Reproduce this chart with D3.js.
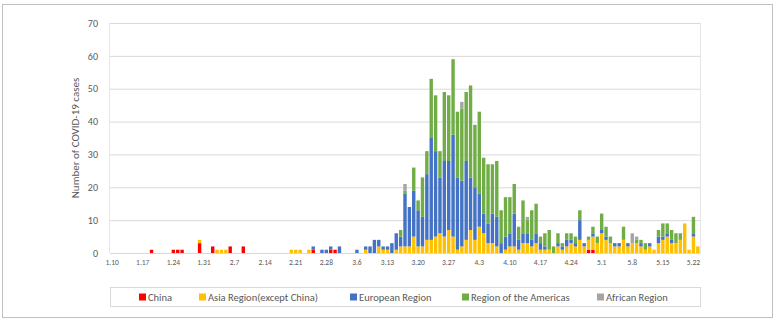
<!DOCTYPE html>
<meta charset="utf-8">
<style>
body { margin: 0; background: #fff; }
text { font-family: Carlito, Calibri, Lato, sans-serif; fill: #595959; }
.grid line { stroke: #d9d9d9; stroke-width: 1; }
.grid path { display: none; }
.xaxis path { stroke: #d9d9d9; }
</style>
<body>
<script src="https://d3js.org/d3.v7.min.js"></script>
<script>
// days 1.10 -> 5.23 (categories)
var days = d3.timeDay.range(new Date(2020, 0, 10), new Date(2020, 4, 24));
var fmt = d3.timeFormat("%-m.%-d");
var categories = days.map(fmt);

var tickLabels = ["1.10","1.17","1.24","1.31","2.7","2.14","2.21","2.28","3.6","3.13",
                  "3.20","3.27","4.3","4.10","4.17","4.24","5.1","5.8","5.15","5.22"];

var china = [0,0,0,0,0,0,0,0,0,1, 0,0,0,0,1,1,1,0,0,0, 3,0,0,2,0,0,0,2,0,0,
             2,0,0,0,0,0,0,0,0,0, 0,0,0,0,0,0,1,0,0,0, 1,1,0,0,0,0,0,0,0,0,
             0,0,0,0,0,0,0,0,0,0, 0,0,0,0,0,0,0,0,0,0, 0,0,0,0,0,0,0,0,0,0,
             0,0,0,0,0,0,0,0,0,0, 0,0,0,0,0,0,0,0,0,1, 1,0,0,0,0,0,0,0,0,0,
             0,0,0,0,0,0,0,0,0,0, 0,0,0,0,0];
var asia = [0,0,0,0,0,0,0,0,0,0, 0,0,0,0,0,0,0,0,0,0, 1,0,0,0,1,1,1,0,0,0,
            0,0,0,0,0,0,0,0,0,0, 0,1,1,1,0,1,0,0,0,0, 0,0,0,0,0,0,0,0,1,0,
            0,2,1,1,0,1,2,2,2,5, 2,2,4,4,5,6,5,7,5,1, 2,4,7,4,8,6,3,3,2,0,
            1,2,2,1,3,3,2,3,1,1, 1,0,2,1,2,3,2,4,2,3, 4,3,6,4,3,2,2,4,2,3,
            3,2,1,2,1,3,4,5,3,3, 4,9,1,5,2];
var europe = [0,0,0,0,0,0,0,0,0,0, 0,0,0,0,0,0,0,0,0,0, 0,0,0,0,0,0,0,0,0,0,
              0,0,0,0,0,0,0,0,0,0, 0,0,0,0,0,0,1,0,1,1, 1,0,2,0,0,0,1,0,1,2,
              4,2,1,1,3,5,3,16,12,14, 11,9,20,31,26,17,23,21,31,22, 20,24,16,16,10,6,6,9,9,3,
              4,4,10,3,3,3,2,3,2,1, 0,0,1,1,2,1,1,6,1,0, 1,0,1,1,0,1,1,0,1,0,
              0,1,0,1,0,2,1,1,1,0, 0,0,0,1,0];
var americas = [0,0,0,0,0,0,0,0,0,0, 0,0,0,0,0,0,0,0,0,0, 0,0,0,0,0,0,0,0,0,0,
                0,0,0,0,0,0,0,0,0,0, 0,0,0,0,0,0,0,0,0,0, 0,0,0,0,0,0,0,0,0,0,
                0,0,0,0,0,0,2,1,0,7, 3,12,7,18,17,8,21,20,23,20, 22,21,28,19,25,17,18,15,17,10,
                12,11,9,4,10,4,9,9,2,4, 6,2,3,1,2,2,2,3,0,1, 2,2,5,3,2,0,0,4,0,0,
                1,1,2,0,0,2,4,3,3,3, 2,0,0,5,0];
var africa = [0,0,0,0,0,0,0,0,0,0, 0,0,0,0,0,0,0,0,0,0, 0,0,0,0,0,0,0,0,0,0,
              0,0,0,0,0,0,0,0,0,0, 0,0,0,0,0,0,0,0,0,0, 0,0,0,0,0,0,0,0,0,0,
              0,0,0,0,0,0,0,2,0,0, 0,0,0,0,0,0,0,0,0,0, 2,0,0,0,0,0,0,0,0,0,
              0,0,0,0,0,1,0,0,0,0, 0,0,0,0,0,0,0,0,0,0, 0,0,0,0,0,0,0,0,0,3,
              1,0,0,0,0,0,0,0,0,0, 0,0,0,0,0];

var seriesNames = ["China", "Asia Region(except China)", "European Region", "Region of the Americas", "African Region"];
var seriesKeys = ["china", "asia", "europe", "americas", "africa"];
var colors = ["#ff0000", "#ffc000", "#4472c4", "#70ad47", "#a5a5a5"];

var table = categories.map(function(c, i) {
  return {day: c, china: china[i], asia: asia[i], europe: europe[i], americas: americas[i], africa: africa[i]};
});

var W = 782, H = 322;
var plotL = 110, plotR = 700, plotT = 23, plotB = 253;

var svg = d3.select("body").append("svg").attr("width", W).attr("height", H);

// outer frame
svg.append("rect").attr("x", 2.5).attr("y", 4.5).attr("width", 770).attr("height", 313)
  .attr("fill", "#fff").attr("stroke", "#bfbfbf");

var x = d3.scaleBand().domain(categories).range([plotL, plotR]).paddingInner(0.22).paddingOuter(0.11);
var y = d3.scaleLinear().domain([0, 70]).range([plotB, plotT]);

// gridlines
svg.append("g").attr("class", "grid")
  .attr("transform", "translate(" + plotL + ",0)")
  .call(d3.axisLeft(y).ticks(7).tickSize(-(plotR - plotL)).tickFormat(""));
svg.append("line").attr("x1", plotR + 0.5).attr("x2", plotR + 0.5).attr("y1", plotT).attr("y2", plotB)
  .attr("stroke", "#e6e6e6");
svg.append("line").attr("x1", plotL - 0.5).attr("x2", plotL - 0.5).attr("y1", plotT).attr("y2", plotB)
  .attr("stroke", "#e6e6e6");

// y labels
var ya = svg.append("g").attr("transform", "translate(" + plotL + ",0)")
  .call(d3.axisLeft(y).ticks(7).tickSize(0).tickPadding(12));
ya.select(".domain").remove();
ya.selectAll("text").style("font-size", "10px").attr("fill", "#595959");

// stacked bars
var stack = d3.stack().keys(seriesKeys)(table);
svg.append("g").selectAll("g").data(stack).join("g")
  .attr("fill", function(d, i) { return colors[i]; })
  .selectAll("rect").data(function(d) { return d; }).join("rect")
    .attr("x", function(d) { return x(d.data.day); })
    .attr("width", x.bandwidth())
    .attr("y", function(d) { return y(d[1]); })
    .attr("height", function(d) { return y(d[0]) - y(d[1]); });

// x axis
var xa = svg.append("g").attr("class", "xaxis").attr("transform", "translate(0," + plotB + ")")
  .call(d3.axisBottom(x).tickValues(tickLabels).tickSize(0).tickPadding(7));
xa.selectAll("text").style("font-size", "7.5px").attr("fill", "#595959");

// y title
svg.append("text").attr("transform", "translate(79,138) rotate(-90)")
  .attr("text-anchor", "middle").style("font-size", "11px")
  .text("Number of COVID-19 cases");

// legend
svg.append("rect").attr("x", plotL + 0.5).attr("y", 287.5).attr("width", plotR - plotL).attr("height", 19)
  .attr("fill", "none").attr("stroke", "#d9d9d9");
var legendX = [139, 199, 350, 462, 597];
var lg = svg.append("g").selectAll("g").data(seriesNames).join("g")
  .attr("transform", function(d, i) { return "translate(" + legendX[i] + ",297)"; });
lg.append("rect").attr("x", 0).attr("y", -3.5).attr("width", 7).attr("height", 7)
  .attr("fill", function(d, i) { return colors[i]; });
lg.append("text").attr("x", 9).attr("y", 4).style("font-size", "10.5px").text(function(d) { return d; });
</script>
</body>
